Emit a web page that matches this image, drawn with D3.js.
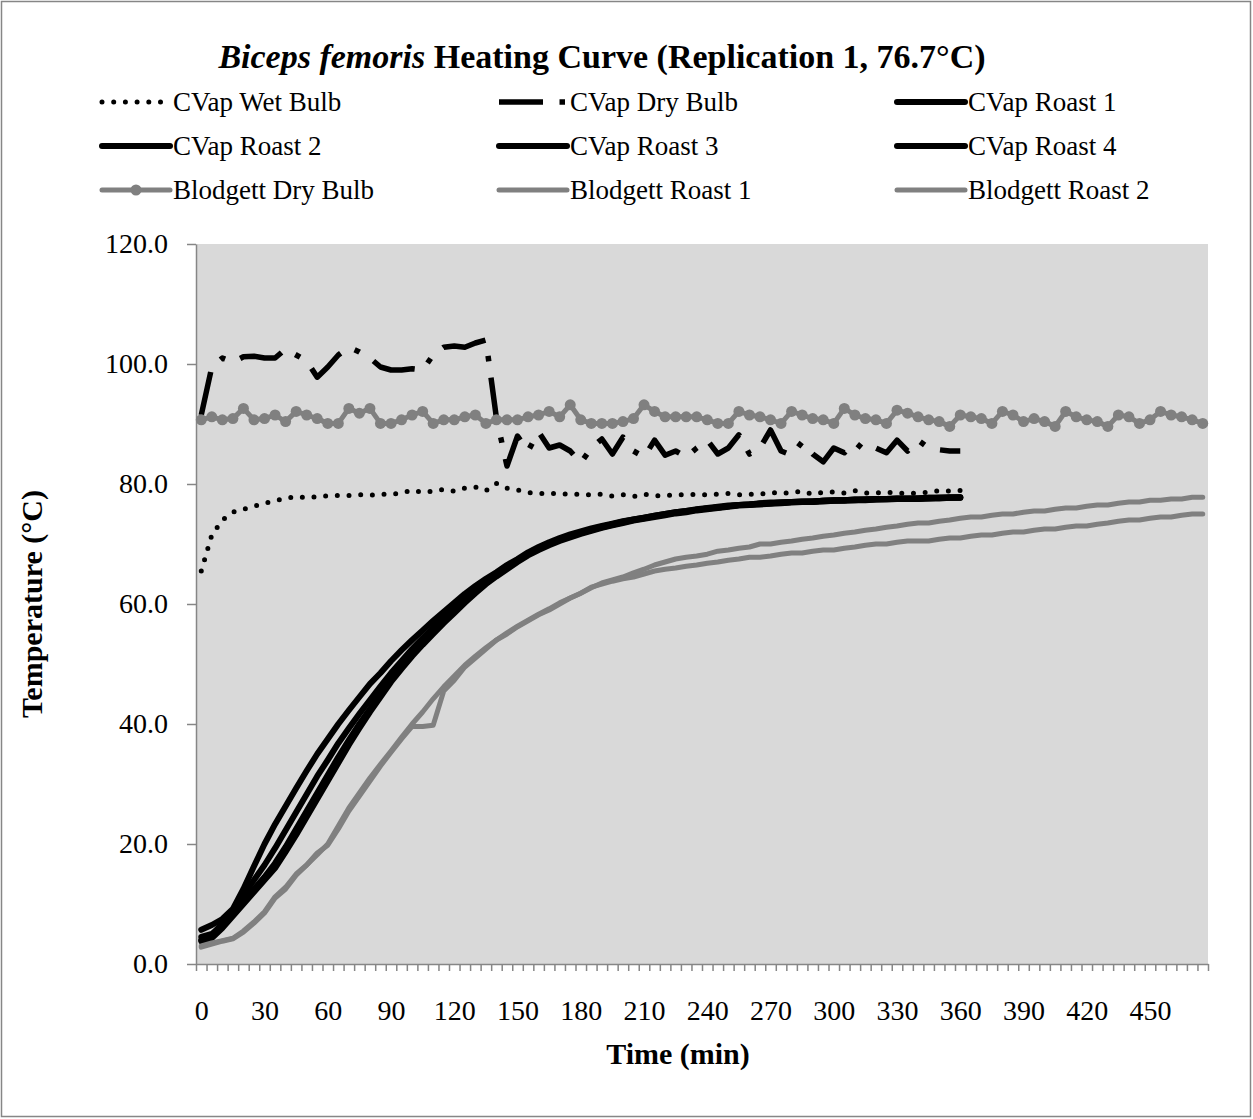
<!DOCTYPE html>
<html><head><meta charset="utf-8">
<script src="https://cdn.jsdelivr.net/npm/d3@7"></script>
<style>body{margin:0;background:#fff}svg{display:block}</style>
</head><body>
<svg id="chart" width="1253" height="1119"></svg>
<script>
// ---- DATA ----
const timeCVap = [0,5,10,15,20,25,30,35,40,45,50,55,60,65,70,75,80,85,90,95,100,105,110,115,120,125,130,135,140,145,150,155,160,165,170,175,180,185,190,195,200,205,210,215,220,225,230,235,240,245,250,255,260,265,270,275,280,285,290,295,300,305,310,315,320,325,330,335,340,345,350,355,360];
const timeBlodgett = [0,5,10,15,20,25,30,35,40,45,50,55,60,65,70,75,80,85,90,95,100,105,110,115,120,125,130,135,140,145,150,155,160,165,170,175,180,185,190,195,200,205,210,215,220,225,230,235,240,245,250,255,260,265,270,275,280,285,290,295,300,305,310,315,320,325,330,335,340,345,350,355,360,365,370,375,380,385,390,395,400,405,410,415,420,425,430,435,440,445,450,455,460,465,470,475];
const xTickLabels = [0,30,60,90,120,150,180,210,240,270,300,330,360,390,420,450];
const yTickLabels = [0,20,40,60,80,100,120];

const cvapWetBulb = [65.5,71.5,74.0,75.3,75.8,76.3,76.8,77.2,77.6,77.9,
 77.7,77.9,78.0,78.1,78.1,78.2,78.1,78.3,78.3,78.5,
 79.0,78.6,78.8,79.1,78.8,79.3,79.5,78.9,80.1,79.3,
 79.0,78.6,78.4,78.5,78.3,78.4,78.2,78.2,78.3,78.0,
 78.2,77.9,78.3,78.0,78.1,78.2,78.2,78.3,78.2,78.3,
 78.4,78.2,78.3,78.3,78.6,78.4,78.6,78.8,78.3,78.6,
 78.7,78.5,78.9,78.5,78.5,78.6,78.5,78.4,78.5,78.6,
 78.9,78.8,78.9];
const cvapDryBulb = [91.5,99.5,101.0,100.3,101.2,101.3,101.0,101.0,102.5,101.5,
 100.5,97.8,99.5,101.5,102.8,102.0,101.0,99.5,99.0,99.0,
 99.2,99.0,101.5,102.8,103.0,102.8,103.5,104.0,91.0,83.0,
 88.0,85.5,88.7,86.0,86.5,85.5,83.5,86.0,87.5,85.0,
 87.8,85.5,84.5,87.3,84.8,85.5,84.5,86.0,87.3,85.0,
 86.0,88.2,85.0,86.0,89.0,85.5,84.8,87.0,85.0,83.7,
 86.0,85.2,87.0,85.5,86.0,85.2,87.3,85.5,87.3,86.0,
 85.7,85.5,85.5];
const cvapRoast1 = [5.7,6.5,7.5,9.2,12.5,16.3,20.0,23.3,26.3,29.3,
 32.2,35.0,37.5,40.0,42.3,44.5,46.7,48.5,50.5,52.3,
 54.0,55.6,57.2,58.7,60.2,61.7,63.0,64.2,65.3,66.5,
 67.5,68.6,69.5,70.3,71.0,71.6,72.1,72.6,73.0,73.4,
 73.8,74.1,74.4,74.7,75.0,75.3,75.5,75.7,75.9,76.1,
 76.3,76.5,76.6,76.7,76.8,76.9,77.0,77.1,77.1,77.2,
 77.3,77.3,77.4,77.4,77.5,77.5,77.6,77.6,77.6,77.7,
 77.7,77.8,77.8];
const cvapRoast2 = [4.5,5.0,6.5,8.5,10.5,12.5,14.5,16.8,19.5,22.5,
 25.5,28.5,31.5,34.5,37.3,40.0,42.5,45.0,47.3,49.5,
 51.5,53.5,55.3,57.0,58.8,60.5,62.0,63.5,64.8,66.0,
 67.2,68.3,69.2,70.0,70.7,71.3,71.8,72.3,72.8,73.2,
 73.6,74.0,74.3,74.6,74.9,75.2,75.4,75.7,75.9,76.1,
 76.3,76.5,76.6,76.7,76.8,76.9,77.0,77.0,77.1,77.2,
 77.2,77.3,77.3,77.4,77.4,77.5,77.5,77.5,77.6,77.6,
 77.7,77.7,77.7];
const cvapRoast3 = [4.0,4.8,6.8,9.0,11.5,14.0,16.5,19.3,22.3,25.3,
 28.3,31.3,34.0,36.8,39.3,41.7,44.0,46.3,48.5,50.5,
 52.5,54.3,56.0,57.7,59.3,60.8,62.3,63.8,65.0,66.2,
 67.3,68.4,69.3,70.1,70.8,71.4,71.9,72.4,72.9,73.3,
 73.7,74.1,74.4,74.7,75.0,75.3,75.5,75.8,76.0,76.2,
 76.4,76.5,76.6,76.8,76.9,76.9,77.0,77.1,77.1,77.2,
 77.3,77.3,77.4,77.4,77.5,77.5,77.6,77.6,77.6,77.7,
 77.7,77.7,77.8];
const cvapRoast4 = [3.8,4.3,6.0,8.0,10.0,12.0,14.0,16.0,18.7,21.5,
 24.5,27.5,30.5,33.5,36.5,39.3,42.0,44.5,47.0,49.2,
 51.3,53.2,55.0,56.8,58.5,60.2,61.8,63.3,64.6,65.8,
 67.0,68.1,69.0,69.8,70.5,71.1,71.7,72.2,72.7,73.1,
 73.5,73.9,74.2,74.5,74.8,75.1,75.3,75.6,75.8,76.0,
 76.2,76.4,76.5,76.6,76.7,76.8,76.9,77.0,77.0,77.1,
 77.2,77.2,77.3,77.3,77.4,77.4,77.5,77.5,77.5,77.6,
 77.6,77.7,77.7];
const blodgettDryBulb = [90.7,91.2,90.7,90.9,92.6,90.7,90.9,91.5,90.4,92.1,
 91.5,90.9,90.1,90.1,92.6,91.8,92.6,90.1,90.1,90.7,
 91.5,92.1,90.1,90.7,90.7,91.2,91.5,90.1,90.7,90.7,
 90.7,91.2,91.5,92.1,91.2,93.2,90.7,90.1,90.1,90.1,
 90.4,90.9,93.2,92.1,91.2,91.2,91.2,91.2,90.7,90.1,
 90.1,92.1,91.5,91.2,90.7,90.1,92.1,91.5,90.9,90.7,
 90.1,92.6,91.5,90.9,90.7,90.1,92.3,91.8,91.2,90.7,
 90.4,89.6,91.5,91.2,90.9,90.1,92.1,91.5,90.4,90.9,
 90.4,89.6,92.1,91.2,90.7,90.4,89.6,91.5,91.2,90.1,
 90.7,92.1,91.5,91.2,90.7,90.1];
const blodgettRoast1 = [3.0,3.5,3.9,4.3,5.5,7.0,8.7,11.2,12.8,15.0,
 16.5,18.2,20.0,23.0,26.0,28.5,31.0,33.3,35.5,37.8,
 40.0,42.0,44.2,46.2,48.0,49.8,51.3,52.7,54.0,55.0,
 56.2,57.2,58.2,59.0,60.0,61.0,61.8,62.7,63.5,64.0,
 64.5,65.2,65.8,66.5,67.0,67.5,67.8,68.0,68.3,68.8,
 69.0,69.3,69.5,70.0,70.0,70.3,70.5,70.8,71.0,71.3,
 71.5,71.8,72.0,72.3,72.5,72.8,73.0,73.3,73.5,73.5,
 73.8,74.0,74.3,74.5,74.5,74.8,75.0,75.0,75.3,75.5,
 75.5,75.8,76.0,76.0,76.3,76.5,76.5,76.8,77.0,77.0,
 77.3,77.3,77.5,77.5,77.8,77.8];
const blodgettRoast2 = [2.8,3.3,3.8,4.2,5.3,6.8,8.5,11.0,12.5,14.8,
 16.5,18.5,19.8,22.5,25.5,28.0,30.5,33.0,35.3,37.5,
 39.6,39.6,39.8,45.5,47.3,49.5,51.0,52.5,54.0,55.2,
 56.3,57.3,58.3,59.2,60.2,61.0,61.8,62.8,63.3,63.8,
 64.2,64.5,65.0,65.5,65.8,66.0,66.3,66.5,66.8,67.0,
 67.3,67.5,67.8,67.8,68.0,68.3,68.5,68.5,68.8,69.0,
 69.0,69.3,69.5,69.8,70.0,70.0,70.3,70.5,70.5,70.5,
 70.8,71.0,71.0,71.3,71.5,71.5,71.8,72.0,72.0,72.3,
 72.5,72.5,72.8,73.0,73.0,73.3,73.5,73.8,74.0,74.0,
 74.3,74.5,74.5,74.8,75.0,75.0];

const seriesNames = ["CVap Wet Bulb","CVap Dry Bulb","CVap Roast 1","CVap Roast 2","CVap Roast 3","CVap Roast 4","Blodgett Dry Bulb","Blodgett Roast 1","Blodgett Roast 2"];

// ---- STYLE / LAYOUT ----
const BLACK = "#000000", GRAY = "#808080", AXIS = "#868686";
const FONT = "'Liberation Serif','Times New Roman',Times,serif";
const styles = [
  {t: timeCVap, v: cvapWetBulb, color: BLACK, w: 5, dash: "0 11.7", cap: "round"},
  {t: timeCVap, v: cvapDryBulb, color: BLACK, w: 5.5, dash: "44 16.5 5.5 16.5", cap: "butt"},
  {t: timeCVap, v: cvapRoast1, color: BLACK, w: 6},
  {t: timeCVap, v: cvapRoast2, color: BLACK, w: 6},
  {t: timeCVap, v: cvapRoast3, color: BLACK, w: 6},
  {t: timeCVap, v: cvapRoast4, color: BLACK, w: 6},
  {t: timeBlodgett, v: blodgettDryBulb, color: GRAY, w: 5, marker: true},
  {t: timeBlodgett, v: blodgettRoast1, color: GRAY, w: 5},
  {t: timeBlodgett, v: blodgettRoast2, color: GRAY, w: 5}
];

const svg = d3.select("#chart");
const P = {left:196, right:1208, top:244, bottom:964};

svg.append("rect").attr("x",1.5).attr("y",1.5).attr("width",1249).attr("height",1115)
  .attr("fill","#fff").attr("stroke",AXIS).attr("stroke-width",1.5);

const x = d3.scaleLinear().domain([-2.5, 477.5]).range([P.left, P.right]);
const y = d3.scaleLinear().domain([0, 120]).range([P.bottom, P.top]);

svg.append("rect").attr("x",P.left).attr("y",P.top)
  .attr("width",P.right-P.left).attr("height",P.bottom-P.top).attr("fill","#d9d9d9");

// category boundaries for tick marks
const boundaries = timeBlodgett.map(t => t - 2.5).concat([timeBlodgett[timeBlodgett.length-1] + 2.5]);

const xTicksG = svg.append("g").attr("transform",`translate(0,${P.bottom})`)
  .call(d3.axisBottom(x).tickValues(boundaries).tickSize(7).tickFormat("").tickSizeOuter(0));
const xLabG = svg.append("g").attr("transform",`translate(0,${P.bottom})`)
  .call(d3.axisBottom(x).tickValues(xTickLabels).tickSize(0).tickPadding(36).tickFormat(d3.format("d")));
xLabG.select(".domain").remove();
const yAxG = svg.append("g").attr("transform",`translate(${P.left},0)`)
  .call(d3.axisLeft(y).tickValues(yTickLabels).tickSize(9).tickPadding(19).tickSizeOuter(0).tickFormat(d3.format(".1f")));

[xTicksG, xLabG, yAxG].forEach(g => {
  g.selectAll(".domain").attr("stroke",AXIS).attr("stroke-width",1.5);
  g.selectAll(".tick line").attr("stroke",AXIS).attr("stroke-width",1.5);
  g.selectAll("text").attr("font-family",FONT).attr("font-size",28).attr("fill","#000");
});

// series
const line = d3.line().x(d => x(d[0])).y(d => y(d[1]));
styles.forEach(s => {
  const pts = s.t.map((t,i) => [t, s.v[i]]);
  const p = svg.append("path").datum(pts).attr("d", line).attr("fill","none")
    .attr("stroke", s.color).attr("stroke-width", s.w).attr("stroke-linejoin","round")
    .attr("stroke-linecap", s.cap || "round");
  if (s.dash) p.attr("stroke-dasharray", s.dash);
  if (s.marker) {
    svg.append("g").selectAll("circle").data(pts).join("circle")
      .attr("cx", d => x(d[0])).attr("cy", d => y(d[1])).attr("r", 5.5).attr("fill", s.color);
  }
});

// title
const title = svg.append("text").attr("x",602).attr("y",68).attr("text-anchor","middle")
  .attr("font-family",FONT).attr("font-size",34).attr("font-weight","bold");
title.append("tspan").attr("font-style","italic").text("Biceps femoris");
title.append("tspan").text(" Heating Curve (Replication 1, 76.7°C)");

// axis titles
svg.append("text").attr("x",678).attr("y",1064).attr("text-anchor","middle")
  .attr("font-family",FONT).attr("font-size",30).attr("font-weight","bold").text("Time (min)");
svg.append("text").attr("transform","translate(42,604) rotate(-90)").attr("text-anchor","middle")
  .attr("font-family",FONT).attr("font-size",30).attr("font-weight","bold").text("Temperature (°C)");

// legend
const colX = [100, 497, 895];
const rowY = [102, 146, 190];
const legend = svg.append("g");
styles.forEach((s, i) => {
  const cx = colX[i % 3], cy = rowY[Math.floor(i / 3)];
  const g = legend.append("g");
  const l = g.append("line").attr("x1",cx+2).attr("x2",cx+70).attr("y1",cy).attr("y2",cy)
    .attr("stroke",s.color).attr("stroke-width",s.w)
    .attr("stroke-linecap", s.dash ? (s.cap || "round") : "round");
  if (s.dash) l.attr("stroke-dasharray", s.dash);
  if (s.marker) g.append("circle").attr("cx",cx+36).attr("cy",cy).attr("r",5.5).attr("fill",s.color);
  g.append("text").attr("x",cx+73).attr("y",cy).attr("dy","0.35em")
    .attr("font-family",FONT).attr("font-size",27).text(seriesNames[i]);
});
</script>
</body></html>
